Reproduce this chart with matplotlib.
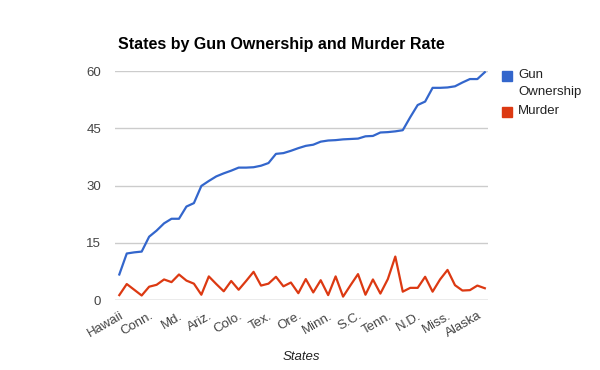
import matplotlib
matplotlib.use('Agg')
import matplotlib.pyplot as plt
from matplotlib.patches import Rectangle
import numpy as np

plt.rcParams['font.family'] = ['Liberation Sans', 'DejaVu Sans']

# ============================================================
# Data (states sorted by gun ownership)
# ============================================================
gun_ownership = [6.7, 12.2, 12.5, 12.7, 16.6, 18.2, 20.1, 21.3, 21.3, 24.5,
                 25.4, 29.9, 31.2, 32.4, 33.2, 33.9, 34.7, 34.7, 34.8, 35.2,
                 35.9, 38.3, 38.5, 39.1, 39.8, 40.4, 40.7, 41.5, 41.8, 41.9,
                 42.1, 42.2, 42.3, 42.9, 43.0, 43.9, 44.0, 44.2, 44.5, 47.9,
                 51.1, 52.0, 55.6, 55.6, 55.7, 56.0, 57.0, 57.9, 57.9, 59.7]
murder = [1.3, 4.2, 2.7, 1.2, 3.5, 4.0, 5.4, 4.7, 6.7, 5.1,
          4.3, 1.4, 6.2, 4.2, 2.3, 5.0, 2.7, 5.0, 7.4, 3.8,
          4.3, 6.1, 3.6, 4.6, 1.8, 5.5, 2.0, 5.2, 1.3, 6.2,
          0.9, 3.9, 6.8, 1.4, 5.4, 1.7, 5.5, 11.4, 2.2, 3.2,
          3.2, 6.1, 2.2, 5.4, 7.9, 3.9, 2.5, 2.6, 3.8, 3.1]
tick_labels = ['Hawaii', 'Conn.', 'Md.', 'Ariz.', 'Colo.', 'Tex.', 'Ore.',
               'Minn.', 'S.C.', 'Tenn.', 'N.D.', 'Miss.', 'Alaska']
y_ticks = [0, 15, 30, 45, 60]
series_names = ['Gun\nOwnership', 'Murder']

BLUE = '#3366cc'
RED = '#dc3912'
W, H = 600, 370

fig = plt.figure(figsize=(W / 100, H / 100), dpi=100)
ax = fig.add_axes([0.192, 0.189, 0.621, 0.619])

x = np.arange(len(gun_ownership))
ax.plot(x, gun_ownership, color=BLUE, lw=1.6, solid_joinstyle='round', zorder=3)
ax.plot(x, murder, color=RED, lw=1.6, solid_joinstyle='round', zorder=3)

ax.set_xlim(-0.55, len(x) - 0.6)
ax.set_ylim(0, 60)
ax.set_yticks(y_ticks)
ax.set_yticklabels([str(v) for v in y_ticks], fontsize=9.5, color='#444444')
for v in y_ticks:
    ax.axhline(v, color='#999999' if v == 0 else '#cccccc', lw=1.0, zorder=1)

ax.set_xticks(x[::4])
ax.set_xticklabels(tick_labels, rotation=30, ha='right', rotation_mode='anchor',
                   fontsize=9.5, color='#444444')
ax.tick_params(length=0, pad=7)
ax.tick_params(axis='y', pad=10)
for s in ax.spines.values():
    s.set_visible(False)

ax.set_xlabel('States', fontsize=9.5, style='italic', color='#222222', labelpad=8)
fig.text(0.197, 0.881, 'States by Gun Ownership and Murder Rate',
         fontsize=11.5, fontweight='bold', color='#000000', va='center')

# legend, drawn by hand (square aligned with first text line)
leg_y = [76, 112]
for name, col, yc in zip(series_names, [BLUE, RED], leg_y):
    fig.patches.append(Rectangle((502 / W, 1 - (yc + 5) / H), 10 / W, 10 / H,
                                 transform=fig.transFigure, color=col))
    fig.text(518 / W, 1 - (yc - 7) / H, name, fontsize=9.5, color='#222222',
             va='top', linespacing=1.5)

fig.savefig('out.png', dpi=100)
